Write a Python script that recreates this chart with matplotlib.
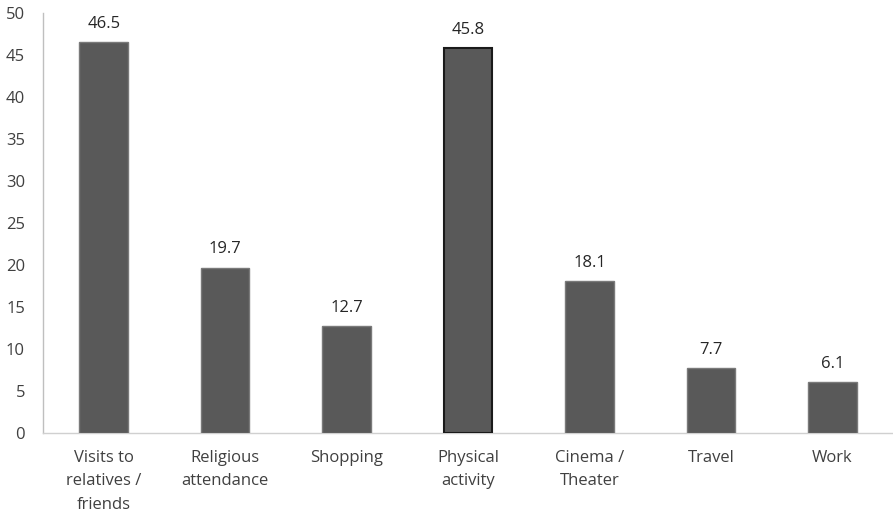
import matplotlib
matplotlib.use("Agg")
import matplotlib.pyplot as plt

categories = ["Visits to\nrelatives /\nfriends", "Religious\nattendance", "Shopping",
              "Physical\nactivity", "Cinema /\nTheater", "Travel", "Work"]
values = [46.5, 19.7, 12.7, 45.8, 18.1, 7.7, 6.1]
yticks = [0, 5, 10, 15, 20, 25, 30, 35, 40, 45, 50]

plt.rcParams['font.family'] = ['Open Sans', 'DejaVu Sans']
W, H = 893, 516
fig = plt.figure(figsize=(W/100, H/100), dpi=100)
ax = fig.add_axes([43/W, (H-433)/H, (W-43)/W, (433-13)/H])

x = list(range(len(categories)))
edges = ['#7a7a7a'] * len(values)
edges[3] = '#1a1a1a'
lws = [1.0] * len(values)
lws[3] = 1.5
bars = ax.bar(x, values, width=0.4, color='#595959', edgecolor=edges, linewidth=lws, zorder=3)
for xi, v in zip(x, values):
    ax.text(xi, v + 1.2, f"{v}", ha='center', va='bottom', fontsize=12, color='#262626')

ax.set_xlim(-0.5, len(categories) - 0.5)
ax.set_ylim(0, 50)
ax.set_yticks(yticks)
ax.set_xticks(x)
ax.set_xticklabels(categories, fontsize=12, color='#404040', linespacing=1.62)
ax.tick_params(axis='y', labelsize=12, labelcolor='#404040', length=0, pad=13)
ax.tick_params(axis='x', length=0, pad=12)
for s in ['top', 'right']:
    ax.spines[s].set_visible(False)
ax.spines['left'].set_color('#bfbfbf')
ax.spines['bottom'].set_color('#d0d0d0')
ax.spines['left'].set_linewidth(1.0)
ax.spines['bottom'].set_linewidth(1.0)

fig.savefig("out.png", dpi=100)
